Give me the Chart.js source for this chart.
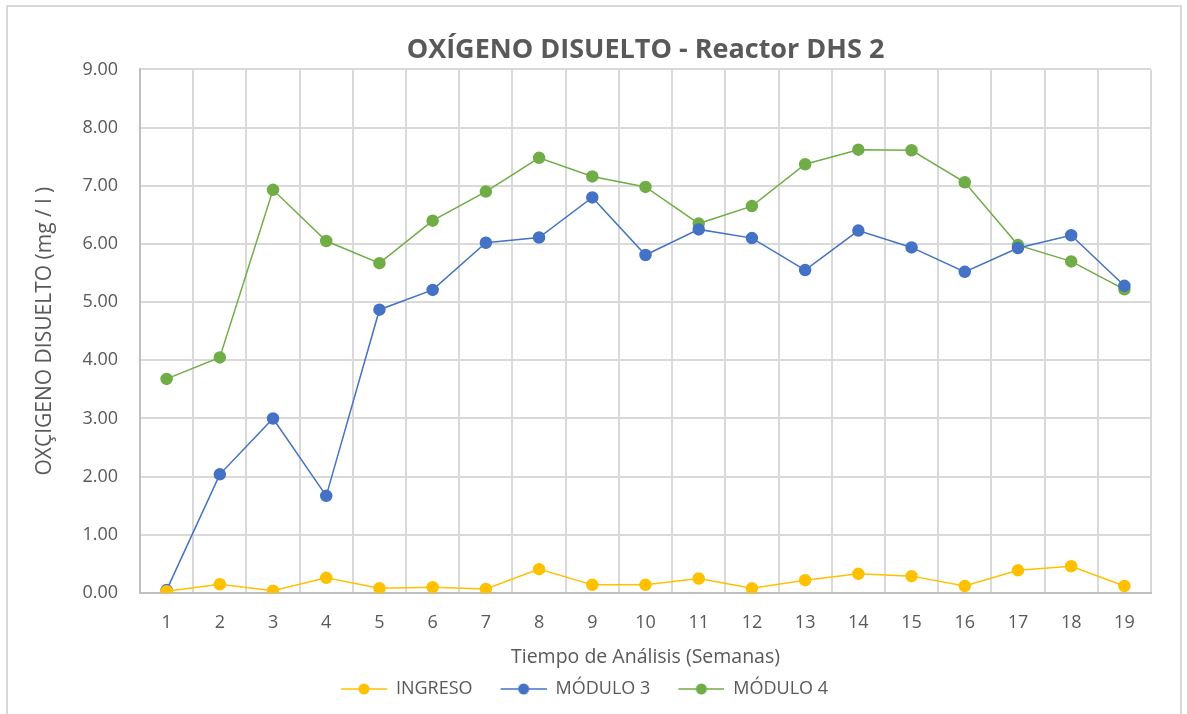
<!DOCTYPE html>
<html lang="es">
<head>
  <meta charset="UTF-8">
  <title>Oxígeno disuelto - Reactor DHS 2</title>
  <script src="https://cdn.jsdelivr.net/npm/chart.js"></script>
  <style>
    html, body {
      margin: 0;
      padding: 0;
      background: #fff;
      overflow: hidden;
    }
    .frame {
      position: absolute;
      left: 6px;
      top: 5px;
      width: 1172px;
      height: 740px;
      border: 2px solid #d9d9d9;
    }
    .chart-box {
      position: absolute;
      left: 0;
      top: 0;
      width: 1187px;
      height: 714px;
    }
  </style>
</head>
<body>
  <div class="frame"></div>
  <div class="chart-box">
    <canvas id="chart"></canvas>
  </div>

  <script>
    // Semanas de análisis
    const semanas = ['1','2','3','4','5','6','7','8','9','10','11','12','13','14','15','16','17','18','19'];

    // Oxígeno disuelto (mg/l)
    const ingreso = [0.03, 0.15, 0.04, 0.26, 0.08, 0.10, 0.07, 0.41, 0.14, 0.14, 0.25, 0.08, 0.22, 0.33, 0.29, 0.12, 0.39, 0.46, 0.12];
    const modulo3 = [0.05, 2.04, 3.00, 1.67, 4.87, 5.21, 6.02, 6.11, 6.80, 5.81, 6.25, 6.10, 5.55, 6.23, 5.94, 5.52, 5.93, 6.15, 5.28];
    const modulo4 = [3.68, 4.05, 6.93, 6.05, 5.67, 6.40, 6.90, 7.48, 7.16, 6.98, 6.35, 6.65, 7.37, 7.62, 7.61, 7.06, 5.98, 5.70, 5.22];

    const colores = { ingreso: '#FFC000', modulo3: '#4472C4', modulo4: '#70AD47' };
    const gris = '#595959';
    const fuente = "'Open Sans', sans-serif";

    // Símbolo de leyenda: línea con punto (con hueco a la izquierda para separar los elementos)
    const HUECO = 18, LARGO = 46;
    const simbolo = color => {
      const c = document.createElement('canvas');
      c.width = HUECO + LARGO;
      c.height = 14;
      const ctx = c.getContext('2d');
      ctx.strokeStyle = color;
      ctx.lineWidth = 1.5;
      ctx.beginPath();
      ctx.moveTo(HUECO, 7);
      ctx.lineTo(HUECO + LARGO, 7);
      ctx.stroke();
      ctx.fillStyle = color;
      ctx.beginPath();
      ctx.arc(HUECO + LARGO / 2, 7, 5.5, 0, Math.PI * 2);
      ctx.fill();
      return c;
    };

    const serie = (label, data, color) => ({
      label,
      data,
      borderColor: color,
      backgroundColor: color,
      borderWidth: 1.5,
      pointRadius: 5.5,
      pointHoverRadius: 5.5,
      pointBackgroundColor: color,
      pointBorderColor: color,
      pointStyle: 'circle',
      tension: 0
    });

    new Chart(document.getElementById('chart'), {
      type: 'line',
      data: {
        labels: semanas,
        datasets: [
          serie('INGRESO', ingreso, colores.ingreso),
          serie('MÓDULO 3', modulo3, colores.modulo3),
          serie('MÓDULO 4', modulo4, colores.modulo4)
        ]
      },
      options: {
        responsive: true,
        maintainAspectRatio: false,
        animation: false,
        layout: { padding: { left: 0, right: 36, top: 0, bottom: 6 } },
        plugins: {
          title: {
            display: true,
            text: 'OXÍGENO DISUELTO - Reactor DHS 2',
            color: gris,
            fullSize: false,
            font: { family: fuente, size: 27, weight: 'bold' },
            padding: { top: 34, bottom: 3 }
          },
          legend: {
            position: 'bottom',
            labels: {
              color: gris,
              font: { family: fuente, size: 18 },
              padding: 10,
              usePointStyle: true,
              pointStyleWidth: HUECO + LARGO,
              generateLabels: chart => chart.data.datasets.map((ds, i) => ({
                text: ds.label,
                fontColor: gris,
                pointStyle: simbolo(ds.borderColor),
                strokeStyle: ds.borderColor,
                fillStyle: ds.borderColor,
                lineWidth: 0,
                datasetIndex: i
              }))
            }
          },
          tooltip: { enabled: false }
        },
        scales: {
          x: {
            offset: true,
            afterFit: s => { s.height = 77; },
            grid: { offset: true, color: '#d9d9d9', lineWidth: 2, drawTicks: false },
            border: { color: '#bfbfbf', width: 2 },
            ticks: { color: gris, font: { family: fuente, size: 18 }, padding: 19 },
            title: {
              display: true,
              text: 'Tiempo de Análisis (Semanas)',
              color: gris,
              font: { family: fuente, size: 19.5 },
              padding: { top: 0, bottom: 1 }
            }
          },
          y: {
            min: 0,
            max: 9,
            afterFit: s => { s.width = 140; },
            grid: { color: '#d9d9d9', lineWidth: 2, drawTicks: false },
            border: { color: '#bfbfbf', width: 2 },
            ticks: {
              stepSize: 1,
              color: gris,
              font: { family: fuente, size: 18 },
              padding: 22,
              callback: v => v.toFixed(2)
            },
            title: {
              display: true,
              text: 'OXÇIGENO DISUELTO (mg / l )',
              color: gris,
              font: { family: fuente, size: 21 },
              padding: { top: 32, bottom: 0 }
            }
          }
        }
      }
    });
  </script>
</body>
</html>
